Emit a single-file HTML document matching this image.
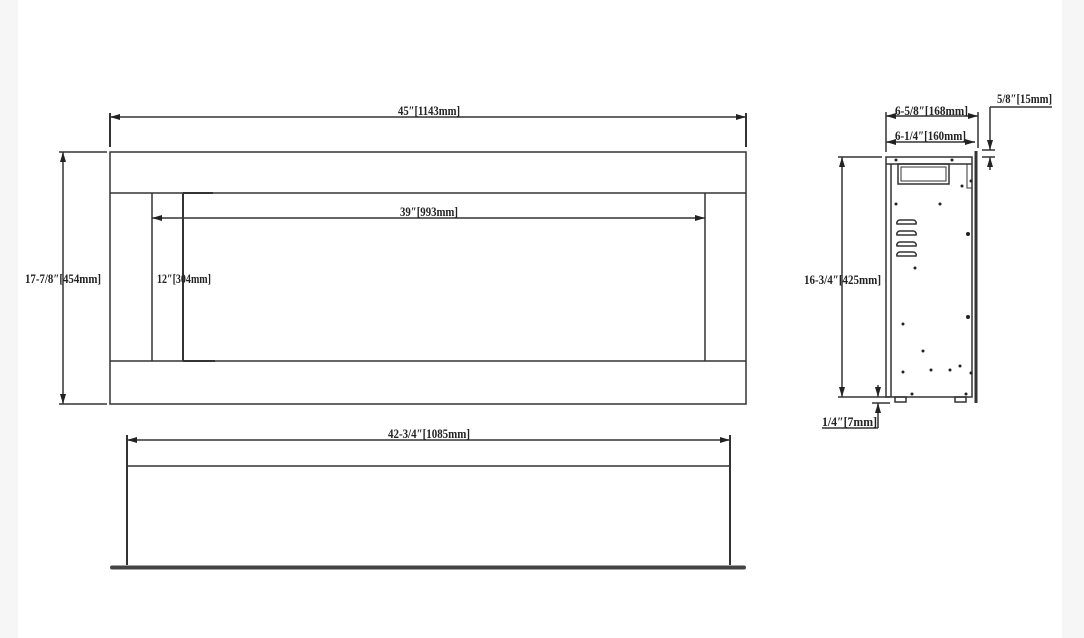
<!DOCTYPE html>
<html><head><style>
html,body{margin:0;padding:0;background:#fff;}
.w{position:relative;width:1084px;height:638px;background:#fff;overflow:hidden;}
.l{position:absolute;left:0;top:0;width:18px;height:638px;background:#f6f6f6;}
.r{position:absolute;right:0;top:0;width:22px;height:638px;background:#f6f6f6;}
svg{position:absolute;left:0;top:0;}
text{font-family:"Liberation Serif",serif;font-size:13px;fill:#222;font-weight:bold;}
</style></head><body><div class="w"><div class="l"></div><div class="r"></div>
<svg width="1084" height="638" viewBox="0 0 1084 638">
<defs>
<marker id="a" viewBox="0 0 10 6" refX="10" refY="3" markerWidth="10" markerHeight="6" orient="auto-start-reverse" markerUnits="userSpaceOnUse"><path d="M0,0 L10,3 L0,6z" fill="#222"/></marker>
</defs>
<g stroke="#333" stroke-width="1.5" fill="none">
<!-- front -->
<rect x="110" y="152" width="636" height="252"/>
<line x1="110" y1="193" x2="746" y2="193"/>
<line x1="110" y1="361" x2="746" y2="361"/>
<line x1="152" y1="193" x2="152" y2="361"/>
<line x1="705" y1="193" x2="705" y2="361"/>
<line x1="183" y1="193" x2="213" y2="193" stroke-width="2"/>
<line x1="183" y1="361" x2="215" y2="361" stroke-width="2"/>
<line x1="110" y1="113" x2="110" y2="147" stroke-width="2"/>
<line x1="746" y1="113" x2="746" y2="147" stroke-width="2"/>
<line x1="110" y1="117" x2="746" y2="117" marker-start="url(#a)" marker-end="url(#a)"/>
<line x1="152" y1="218" x2="705" y2="218" marker-start="url(#a)" marker-end="url(#a)"/>
<line x1="183" y1="193" x2="183" y2="361" stroke-width="2"/>
<line x1="59" y1="152" x2="107" y2="152"/>
<line x1="59" y1="404" x2="107" y2="404"/>
<line x1="63" y1="152" x2="63" y2="404" marker-start="url(#a)" marker-end="url(#a)"/>
<!-- bottom -->
<line x1="127" y1="435" x2="127" y2="565" stroke-width="2"/>
<line x1="730" y1="435" x2="730" y2="565" stroke-width="2"/>
<line x1="127" y1="440" x2="730" y2="440" marker-start="url(#a)" marker-end="url(#a)"/>
<line x1="127" y1="466" x2="730" y2="466"/>
<line x1="112" y1="567.5" x2="744" y2="567.5" stroke-width="4" stroke-linecap="round" stroke="#444"/>
<!-- side -->
<rect x="886" y="157" width="86" height="240"/>
<line x1="886" y1="164" x2="972" y2="164"/>
<line x1="891" y1="164" x2="891" y2="397"/>
<line x1="976" y1="151" x2="976" y2="403" stroke-width="3"/>
<rect x="898" y="164" width="51" height="20"/>
<rect x="901" y="167" width="45" height="14" stroke-width="1"/>
<path d="M967,164 V188 H972" stroke-width="1"/>
<g stroke-width="1.5">
<path d="M897,224 a3,3 0 0 1 3,-4 h13 a3,3 0 0 1 3,4z"/>
<path d="M897,235 a3,3 0 0 1 3,-4 h13 a3,3 0 0 1 3,4z"/>
<path d="M897,246 a3,3 0 0 1 3,-4 h13 a3,3 0 0 1 3,4z"/>
<path d="M897,256 a3,3 0 0 1 3,-4 h13 a3,3 0 0 1 3,4z"/>
</g>
<rect x="895" y="397" width="11" height="5"/>
<rect x="955" y="397" width="11" height="5"/>
<line x1="838" y1="157" x2="882" y2="157"/>
<line x1="838" y1="397" x2="890" y2="397"/>
<line x1="842" y1="157" x2="842" y2="397" marker-start="url(#a)" marker-end="url(#a)"/>
<line x1="886" y1="112" x2="886" y2="152"/>
<line x1="978" y1="112" x2="978" y2="148"/>
<line x1="886" y1="116" x2="978" y2="116" marker-start="url(#a)" marker-end="url(#a)"/>
<line x1="886" y1="142" x2="975" y2="142" marker-start="url(#a)" marker-end="url(#a)"/>
<line x1="990" y1="107" x2="1052" y2="107"/>
<line x1="990" y1="107" x2="990" y2="150" marker-end="url(#a)"/>
<line x1="990" y1="170" x2="990" y2="157" marker-end="url(#a)"/>
<line x1="982" y1="150" x2="995" y2="150"/>
<line x1="982" y1="157" x2="995" y2="157"/>
<line x1="872" y1="403" x2="890" y2="403"/>
<line x1="878" y1="385" x2="878" y2="397" marker-end="url(#a)"/>
<line x1="878" y1="428" x2="878" y2="403" marker-end="url(#a)"/>
<line x1="822" y1="428" x2="878" y2="428"/>
</g>
<g fill="#222">
<circle cx="896" cy="160" r="1.5"/><circle cx="952" cy="160" r="1.5"/>
<circle cx="971" cy="181" r="1.5"/><circle cx="962" cy="186" r="1.5"/>
<circle cx="896" cy="204" r="1.5"/><circle cx="940" cy="204" r="1.5"/>
<circle cx="968" cy="234" r="2"/><circle cx="915" cy="268" r="1.5"/>
<circle cx="968" cy="317" r="2"/><circle cx="903" cy="324" r="1.5"/>
<circle cx="923" cy="351" r="1.5"/><circle cx="903" cy="372" r="1.5"/>
<circle cx="931" cy="370" r="1.5"/><circle cx="950" cy="370" r="1.5"/>
<circle cx="960" cy="366" r="1.5"/><circle cx="971" cy="373" r="1.5"/>
<circle cx="912" cy="394" r="1.5"/><circle cx="966" cy="394" r="1.5"/>
</g>
<text x="398" y="115" textLength="62" lengthAdjust="spacingAndGlyphs">45″[1143mm]</text>
<text x="400" y="216" textLength="58" lengthAdjust="spacingAndGlyphs">39″[993mm]</text>
<text x="25" y="283" textLength="76" lengthAdjust="spacingAndGlyphs">17-7/8″[454mm]</text>
<text x="157" y="283" textLength="54" lengthAdjust="spacingAndGlyphs">12″[304mm]</text>
<text x="388" y="438" textLength="82" lengthAdjust="spacingAndGlyphs">42-3/4″[1085mm]</text>
<text x="895" y="115" textLength="73" lengthAdjust="spacingAndGlyphs">6-5/8″[168mm]</text>
<text x="895" y="140" textLength="71" lengthAdjust="spacingAndGlyphs">6-1/4″[160mm]</text>
<text x="997" y="103" textLength="55" lengthAdjust="spacingAndGlyphs">5/8″[15mm]</text>
<text x="804" y="284" textLength="77" lengthAdjust="spacingAndGlyphs">16-3/4″[425mm]</text>
<text x="822" y="426" textLength="55" lengthAdjust="spacingAndGlyphs">1/4″[7mm]</text>
</svg></div></body></html>
